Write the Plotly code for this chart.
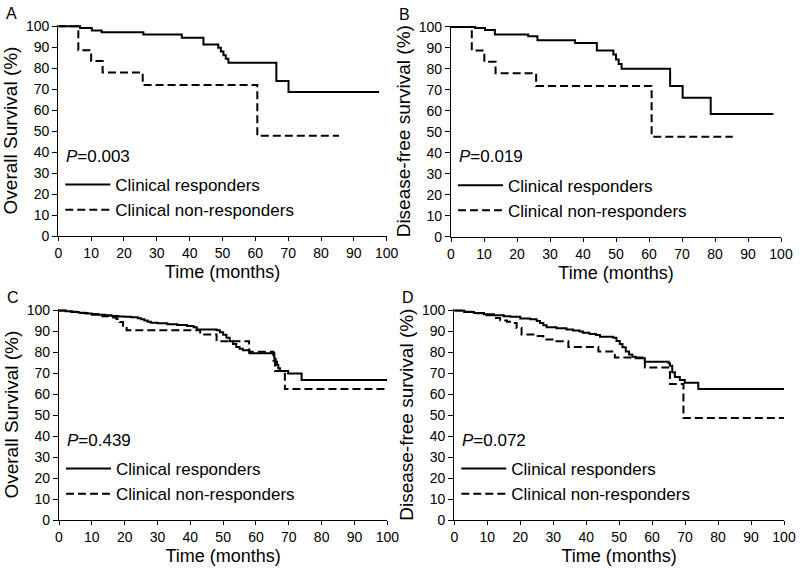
import plotly.graph_objects as go

# ---------------- data (Kaplan-Meier step points) ----------------
A_resp_t = [0, 6.6, 10.2, 13.2, 25.9, 37.6, 44.2, 48.7, 49.5, 50.3, 51.0, 51.8, 66.4, 70.1, 97.7]
A_resp_s = [100, 99.2, 98.0, 97.2, 96.1, 94.5, 91.3, 89.7, 88.0, 86.2, 84.5, 82.6, 73.9, 68.6, 68.6]
A_non_t = [0, 6.1, 10.0, 13.5, 25.7, 60.6, 85.5]
A_non_s = [100, 88.6, 83.4, 77.9, 72.0, 47.8, 47.8]

B_resp_t = [0, 7.3, 10.3, 13.3, 23.4, 26.2, 37.6, 44.2, 49.2, 50.0, 50.8, 51.7, 66.4, 70.2, 78.7, 97.7]
B_resp_s = [100, 99.5, 98.6, 96.4, 95.6, 93.7, 92.3, 88.8, 86.9, 84.5, 82.3, 80.1, 71.9, 66.3, 58.5, 58.5]
B_non_t = [0, 6.3, 10.1, 13.5, 25.8, 60.8, 85.4]
B_non_s = [100, 88.8, 83.4, 77.9, 71.9, 47.7, 47.7]

C_resp_t = [0, 2, 4, 6, 8, 10, 12, 14, 16, 18, 20, 22, 24, 25, 26, 27, 28, 30, 33, 36, 39, 41, 42,
            48, 49, 50, 51, 52, 53, 54, 55, 56, 58, 65.6, 66.0, 66.4, 66.8, 67.3, 69.8, 73.9, 100]
C_resp_s = [100, 99.7, 99.3, 99.0, 98.6, 98.3, 98.0, 97.7, 97.4, 97.2, 97.0, 96.8, 96.3, 95.8, 95.2,
            94.6, 94.2, 93.9, 93.5, 93.1, 92.6, 92.0, 91.0, 90.6, 89.6, 88.4, 87.0, 85.4, 84.0, 82.6,
            81.8, 81.0, 79.6, 77.0, 75.5, 74.0, 72.5, 71.2, 69.9, 66.9, 66.9]
C_non_t = [0, 3, 6, 9, 12, 15, 17.5, 18.5, 19.5, 20.6, 43.0, 48.0, 57.9, 65.3, 65.8, 68.8, 100]
C_non_s = [100, 99.4, 98.8, 98.0, 97.3, 96.7, 96.0, 94.5, 92.8, 90.6, 88.6, 85.4, 80.3, 76.0, 71.2, 62.5, 62.5]

D_resp_t = [0, 3, 6, 9, 12, 15, 17, 20, 23, 25, 26, 27, 28, 31, 34, 36, 38, 39, 41, 43, 44.2, 48.2,
            49.2, 50.2, 51, 52, 53, 54, 55, 57.8, 65.0, 65.4, 66.1, 66.9, 68.4, 69.9, 74.0, 100]
D_resp_s = [100, 99.3, 98.8, 98.2, 97.7, 97.3, 97.0, 96.2, 95.8, 95.0, 94.0, 93.0, 92.0, 91.6, 91.0,
            90.5, 90.0, 89.4, 88.8, 88.3, 87.5, 87.0, 85.5, 84.0, 82.5, 80.5, 79.0, 78.0, 77.2, 75.5,
            74.8, 73.7, 70.6, 68.3, 66.8, 65.5, 62.5, 62.5]
D_non_t = [0, 3, 6, 9, 11.8, 13.9, 16, 17.9, 18.9, 20.4, 24, 27, 31, 34.6, 43.7, 48.7, 57.8, 65.4, 69.5, 100]
D_non_s = [100, 99.4, 98.7, 97.8, 96.5, 95.2, 94.6, 94.1, 91.7, 88.6, 87.8, 86.2, 85.4, 82.6, 80.4,
           77.6, 72.8, 64.9, 48.7, 48.7]

series_names = ["Clinical responders", "Clinical non-responders"]
panel_letters = ["A", "B", "C", "D"]
p_values = ["0.003", "0.019", "0.439", "0.072"]
y_titles = ["Overall Survival (%)", "Disease-free survival (%)",
            "Overall Survival (%)", "Disease-free survival (%)"]
x_title = "Time (months)"
tick_vals = list(range(0, 101, 10))

panels = [
    (A_resp_t, A_resp_s, A_non_t, A_non_s),
    (B_resp_t, B_resp_s, B_non_t, B_non_s),
    (C_resp_t, C_resp_s, C_non_t, C_non_s),
    (D_resp_t, D_resp_s, D_non_t, D_non_s),
]

# ---------------- layout geometry (pixels in an 800x569 canvas) ----------------
W, H = 800, 569
# (x0, x100, y100_top, y0_bottom) in pixels
boxes = [
    (58.3, 386.7, 25.0, 236.0),
    (451.0, 781.0, 25.7, 236.7),
    (59.0, 387.3, 309.3, 520.0),
    (454.3, 784.0, 309.3, 520.0),
]
FONT = "Liberation Sans, Arial, sans-serif"

fig = go.Figure()
layout = dict(
    width=W, height=H, margin=dict(l=0, r=0, t=0, b=0, autoexpand=False),
    paper_bgcolor="white", plot_bgcolor="white",
    font=dict(family=FONT, color="black", size=14),
    annotations=[],
)

for i, (rt, rs, nt, ns) in enumerate(panels):
    k = "" if i == 0 else str(i + 1)
    leg = "legend" if i == 0 else "legend" + str(i + 1)
    x0, x1, ytop, ybot = boxes[i]
    fig.add_trace(go.Scatter(x=rt, y=rs, mode="lines", line=dict(color="black", width=2, shape="hv"),
                             name=series_names[0], xaxis="x" + k, yaxis="y" + k, legend=leg))
    fig.add_trace(go.Scatter(x=nt, y=ns, mode="lines",
                             line=dict(color="black", width=2, shape="hv", dash="8px,4px"),
                             name=series_names[1], xaxis="x" + k, yaxis="y" + k, legend=leg))
    common = dict(showline=True, linecolor="black", linewidth=1.3, ticks="outside", tickcolor="black",
                  tickwidth=1.3, showgrid=False, zeroline=False, tickvals=tick_vals, automargin=False,
                  tickfont=dict(family=FONT, size=14, color="black"))
    layout["xaxis" + k] = dict(common, domain=[x0 / W, x1 / W], range=[0, 100], ticklen=4,
                               anchor="y" + k,
                               title=dict(text=x_title, font=dict(family=FONT, size=18), standoff=5))
    layout["yaxis" + k] = dict(common, domain=[1 - ybot / H, 1 - ytop / H], range=[0, 100.6], ticklen=5,
                               anchor="x" + k,
                               title=dict(text=y_titles[i], font=dict(family=FONT, size=19), standoff=3))
    layout[leg] = dict(x=(x0 + 2) / W, y=1 - (ybot - 69) / H, xanchor="left", yanchor="top",
                       bgcolor="rgba(0,0,0,0)", font=dict(family=FONT, size=17, color="black"),
                       tracegroupgap=0, itemwidth=45)
    layout["annotations"].append(dict(text="<i>P</i>=" + p_values[i], xref="paper", yref="paper",
                                      x=(x0 + 6) / W, y=1 - (ybot - 80) / H, xanchor="left",
                                      yanchor="middle", showarrow=False,
                                      font=dict(family=FONT, size=17, color="black")))
    layout["annotations"].append(dict(text=panel_letters[i], xref="paper", yref="paper",
                                      x=(x0 - 54) / W, y=1 - (ytop - 11.5) / H, xanchor="left",
                                      yanchor="middle", showarrow=False,
                                      font=dict(family=FONT, size=16, color="black")))

fig.update_layout(**layout)
fig.write_html("out.html", config={"displayModeBar": False},
               post_script="document.body.style.margin='0px';document.body.style.padding='0px';")
